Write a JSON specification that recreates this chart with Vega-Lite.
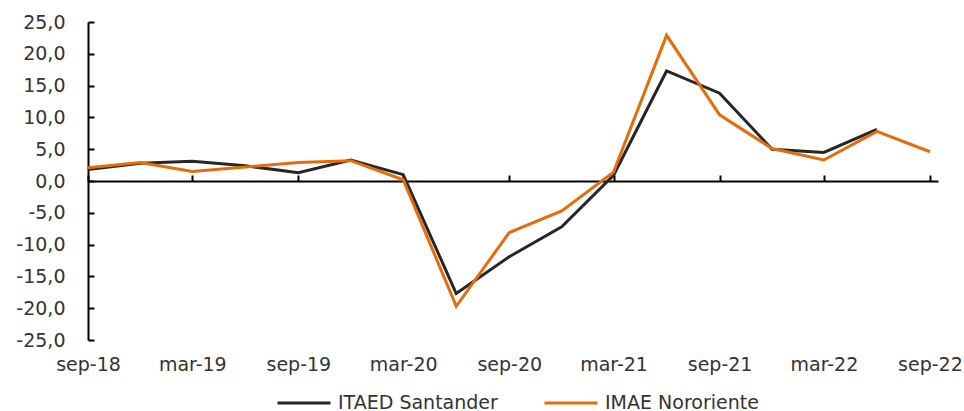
{
  "$schema": "https://vega.github.io/schema/vega-lite/v6.json",
  "width": 850,
  "height": 318,
  "autosize": {"type": "none"},
  "padding": {"left": 88, "top": 22, "right": 26, "bottom": 71},
  "background": "white",
  "config": {"view": {"stroke": null}, "font": "DejaVu Sans", "axis": {"labelOverlap": false}},
  "data": {"values": [
    {"date": "2018-09-01T00:00:00", "series": "ITAED Santander", "value": 1.8},
    {"date": "2018-12-01T00:00:00", "series": "ITAED Santander", "value": 2.8},
    {"date": "2019-03-01T00:00:00", "series": "ITAED Santander", "value": 3.1},
    {"date": "2019-06-01T00:00:00", "series": "ITAED Santander", "value": 2.4},
    {"date": "2019-09-01T00:00:00", "series": "ITAED Santander", "value": 1.3},
    {"date": "2019-12-01T00:00:00", "series": "ITAED Santander", "value": 3.3},
    {"date": "2020-03-01T00:00:00", "series": "ITAED Santander", "value": 1.0},
    {"date": "2020-06-01T00:00:00", "series": "ITAED Santander", "value": -17.7},
    {"date": "2020-09-01T00:00:00", "series": "ITAED Santander", "value": -11.9},
    {"date": "2020-12-01T00:00:00", "series": "ITAED Santander", "value": -7.2},
    {"date": "2021-03-01T00:00:00", "series": "ITAED Santander", "value": 0.9},
    {"date": "2021-06-01T00:00:00", "series": "ITAED Santander", "value": 17.3},
    {"date": "2021-09-01T00:00:00", "series": "ITAED Santander", "value": 13.8},
    {"date": "2021-12-01T00:00:00", "series": "ITAED Santander", "value": 5.0},
    {"date": "2022-03-01T00:00:00", "series": "ITAED Santander", "value": 4.5},
    {"date": "2022-06-01T00:00:00", "series": "ITAED Santander", "value": 8.1},
    {"date": "2018-09-01T00:00:00", "series": "IMAE Nororiente", "value": 2.1},
    {"date": "2018-12-01T00:00:00", "series": "IMAE Nororiente", "value": 2.9},
    {"date": "2019-03-01T00:00:00", "series": "IMAE Nororiente", "value": 1.5},
    {"date": "2019-06-01T00:00:00", "series": "IMAE Nororiente", "value": 2.2},
    {"date": "2019-09-01T00:00:00", "series": "IMAE Nororiente", "value": 2.9},
    {"date": "2019-12-01T00:00:00", "series": "IMAE Nororiente", "value": 3.2},
    {"date": "2020-03-01T00:00:00", "series": "IMAE Nororiente", "value": 0.2},
    {"date": "2020-06-01T00:00:00", "series": "IMAE Nororiente", "value": -19.7},
    {"date": "2020-09-01T00:00:00", "series": "IMAE Nororiente", "value": -8.1},
    {"date": "2020-12-01T00:00:00", "series": "IMAE Nororiente", "value": -4.7},
    {"date": "2021-03-01T00:00:00", "series": "IMAE Nororiente", "value": 1.4},
    {"date": "2021-06-01T00:00:00", "series": "IMAE Nororiente", "value": 22.9},
    {"date": "2021-09-01T00:00:00", "series": "IMAE Nororiente", "value": 10.4},
    {"date": "2021-12-01T00:00:00", "series": "IMAE Nororiente", "value": 5.1},
    {"date": "2022-03-01T00:00:00", "series": "IMAE Nororiente", "value": 3.3},
    {"date": "2022-06-01T00:00:00", "series": "IMAE Nororiente", "value": 7.8},
    {"date": "2022-09-01T00:00:00", "series": "IMAE Nororiente", "value": 4.6}
  ]},
  "layer": [
    {
      "mark": {"type": "point", "opacity": 0},
      "encoding": {
        "x": {
          "field": "date", "type": "temporal",
          "scale": {"domain": [{"year": 2018, "month": 9, "date": 1}, {"year": 2022, "month": 9, "date": 15}]},
          "axis": {
            "orient": "top", "offset": -159, "labels": false, "title": null, "grid": false,
            "domain": true, "domainColor": "black", "domainWidth": 2,
            "ticks": true, "tickColor": "black", "tickWidth": 2, "tickSize": 6,
            "values": [
              {"year": 2018, "month": 9, "date": 1}, {"year": 2019, "month": 3, "date": 1},
              {"year": 2019, "month": 9, "date": 1}, {"year": 2020, "month": 3, "date": 1},
              {"year": 2020, "month": 9, "date": 1}, {"year": 2021, "month": 3, "date": 1},
              {"year": 2021, "month": 9, "date": 1}, {"year": 2022, "month": 3, "date": 1},
              {"year": 2022, "month": 9, "date": 1}
            ]
          }
        },
        "y": {
          "field": "value", "type": "quantitative",
          "scale": {"domain": [-25, 25], "nice": false, "zero": false},
          "axis": {
            "title": null, "grid": false,
            "values": [-25, -20, -15, -10, -5, 0, 5, 10, 15, 20, 25],
            "labelExpr": "(datum.value < 0 ? '-' : '') + replace(format(abs(datum.value), '.1f'), '.', ',')",
            "labelOverlap": false, "labelFlush": false,
            "domain": true, "domainColor": "black", "domainWidth": 2,
            "ticks": true, "tickColor": "black", "tickWidth": 2, "tickSize": -6,
            "labelPadding": 29, "labelFontSize": 19, "labelColor": "#333333"
          }
        }
      }
    },
    {
      "transform": [{"filter": "datum.series === 'ITAED Santander'"}],
      "mark": {"type": "line", "strokeWidth": 3, "strokeJoin": "miter"},
      "encoding": {
        "x": {
          "field": "date", "type": "temporal",
          "axis": {
            "orient": "bottom", "title": null, "grid": false, "domain": false, "ticks": false,
            "labelExpr": "lower(timeFormat(datum.value, '%b-%y'))",
            "labelOverlap": false, "labelFlush": false,
            "labelFontSize": 19, "labelColor": "#333333", "labelPadding": 15,
            "values": [
              {"year": 2018, "month": 9, "date": 1}, {"year": 2019, "month": 3, "date": 1},
              {"year": 2019, "month": 9, "date": 1}, {"year": 2020, "month": 3, "date": 1},
              {"year": 2020, "month": 9, "date": 1}, {"year": 2021, "month": 3, "date": 1},
              {"year": 2021, "month": 9, "date": 1}, {"year": 2022, "month": 3, "date": 1},
              {"year": 2022, "month": 9, "date": 1}
            ]
          }
        },
        "y": {
          "field": "value", "type": "quantitative",
          "axis": {
            "title": null, "grid": false,
            "values": [-25, -20, -15, -10, -5, 0, 5, 10, 15, 20, 25],
            "labelExpr": "(datum.value < 0 ? '-' : '') + replace(format(abs(datum.value), '.1f'), '.', ',')",
            "labelOverlap": false, "labelFlush": false,
            "domain": true, "domainColor": "black", "domainWidth": 2,
            "ticks": true, "tickColor": "black", "tickWidth": 2, "tickSize": -6,
            "labelPadding": 29, "labelFontSize": 19, "labelColor": "#333333"
          }
        },
        "color": {
          "field": "series", "type": "nominal",
          "scale": {"domain": ["ITAED Santander", "IMAE Nororiente"], "range": ["#262626", "#E46C0A"]},
          "legend": {
            "title": null, "orient": "none", "direction": "horizontal",
            "legendX": 188, "legendY": 353,
            "symbolType": "stroke", "symbolSize": 2809, "symbolStrokeWidth": 3,
            "labelFontSize": 19, "labelColor": "#333333", "labelOffset": 6,
            "columnPadding": 40
          }
        }
      }
    },
    {
      "transform": [{"filter": "datum.series === 'IMAE Nororiente'"}],
      "mark": {"type": "line", "strokeWidth": 3, "strokeJoin": "miter"},
      "encoding": {
        "x": {"field": "date", "type": "temporal", "axis": null},
        "y": {
          "field": "value", "type": "quantitative",
          "axis": {
            "title": null, "grid": false,
            "values": [-25, -20, -15, -10, -5, 0, 5, 10, 15, 20, 25],
            "labelExpr": "(datum.value < 0 ? '-' : '') + replace(format(abs(datum.value), '.1f'), '.', ',')",
            "labelOverlap": false, "labelFlush": false,
            "domain": true, "domainColor": "black", "domainWidth": 2,
            "ticks": true, "tickColor": "black", "tickWidth": 2, "tickSize": -6,
            "labelPadding": 29, "labelFontSize": 19, "labelColor": "#333333"
          }
        },
        "color": {"field": "series", "type": "nominal"}
      }
    }
  ],
  "resolve": {"axis": {"x": "independent"}}
}
